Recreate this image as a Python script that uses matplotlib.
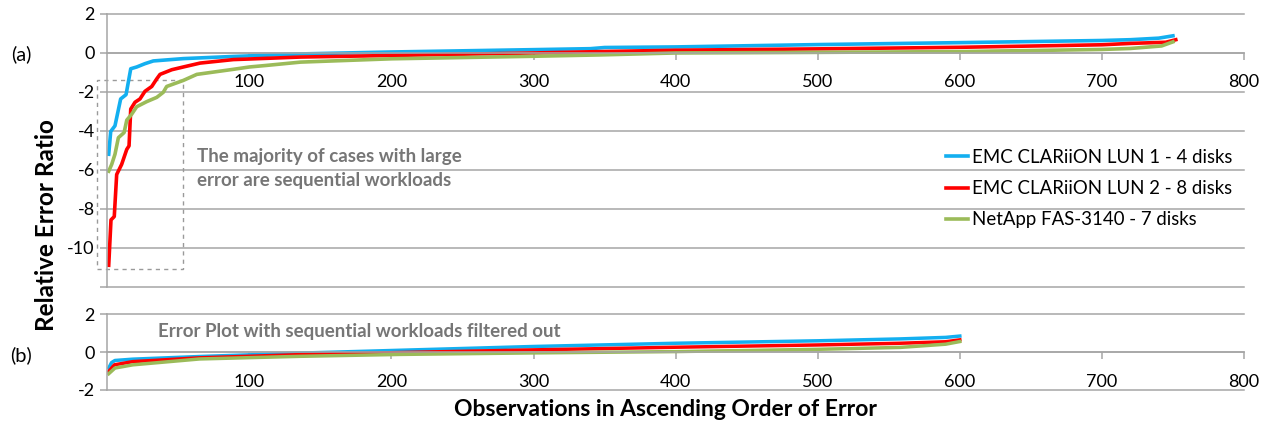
#!/usr/bin/env python3
"""Sorted relative-error curves for three storage arrays: all workloads (a)
and with sequential workloads filtered out (b)."""
import matplotlib
matplotlib.use('Agg')
import matplotlib.pyplot as plt
from matplotlib.patches import Rectangle

plt.rcParams['font.family'] = ['Lato', 'DejaVu Sans']

labels = ['EMC CLARiiON LUN 1 - 4 disks',
          'EMC CLARiiON LUN 2 - 8 disks',
          'NetApp FAS-3140 - 7 disks']
colors = ['#13aff0', '#ff0000', '#9bbb59']

# (a) all workloads, ~750 observations each
a_blue_x = [1, 2.4, 5.4, 9.4, 13.2, 16.5, 20.7, 26.5, 32.4, 53.5, 88.7, 100,
            136, 200, 300, 340, 350, 400, 500, 600, 700, 720, 740, 750]
a_blue_y = [-5.2, -4.03, -3.74, -2.36, -2.14, -0.81, -0.72, -0.55, -0.41, -0.29,
            -0.18, -0.15, -0.05, 0.05, 0.17, 0.22, 0.28, 0.31, 0.43, 0.53, 0.64,
            0.68, 0.76, 0.88]

a_red_x = [1, 2.6, 4.9, 6.6, 10.1, 13.7, 15.3, 16.5, 19.5, 23, 26.5, 31.3, 34.8,
           37.1, 45.4, 53.5, 65.3, 88.7, 100, 136, 200, 300, 347, 400, 500, 600,
           700, 720, 745, 752]
a_red_y = [-10.9, -8.57, -8.4, -6.24, -5.72, -4.95, -4.77, -2.88, -2.53, -2.36,
           -1.97, -1.72, -1.33, -1.1, -0.86, -0.72, -0.52, -0.34, -0.31, -0.21,
           -0.13, 0.0, 0.07, 0.14, 0.21, 0.29, 0.42, 0.49, 0.55, 0.68]

a_green_x = [1, 3.1, 5.4, 7.8, 11.8, 13.7, 17.2, 20.7, 27.7, 34.8, 39.4, 41.8,
             53.5, 63, 88.7, 100, 112, 136, 200, 300, 347, 400, 500, 600, 700,
             720, 742, 750]
a_green_y = [-6.07, -5.72, -5.2, -4.35, -4.09, -3.45, -3.14, -2.76, -2.5, -2.28,
             -2.02, -1.72, -1.41, -1.1, -0.84, -0.72, -0.64, -0.47, -0.3, -0.17,
             -0.1, 0.0, 0.03, 0.07, 0.18, 0.23, 0.36, 0.57]

# (b) sequential workloads removed, ~600 observations each
b_blue_x = [1, 3, 5.4, 18, 65, 136, 206, 300, 400, 500, 558, 590, 600]
b_blue_y = [-0.84, -0.55, -0.44, -0.37, -0.23, -0.05, 0.1, 0.3, 0.47, 0.6, 0.7,
            0.78, 0.85]

b_red_x = [1, 5, 18, 65, 136, 206, 300, 400, 500, 558, 590, 600]
b_red_y = [-1.02, -0.67, -0.5, -0.3, -0.13, -0.02, 0.12, 0.26, 0.38, 0.47, 0.55,
           0.65]

b_green_x = [1, 5.4, 18, 65, 136, 206, 300, 400, 500, 558, 590, 600]
b_green_y = [-1.14, -0.84, -0.67, -0.36, -0.22, -0.12, -0.04, 0.03, 0.15, 0.25,
             0.42, 0.56]

a_yticks = [-12, -10, -8, -6, -4, -2, 0, 2]
b_yticks = [-2, 0, 2]
xticks = [100, 200, 300, 400, 500, 600, 700, 800]

GRID = '#a6a6a6'
NOTE = '#767676'

W, H = 1269, 425
fig = plt.figure(figsize=(W / 100, H / 100), dpi=100)
left, width = 107.3 / W, (1244 - 107.3) / W
ax_a = fig.add_axes([left, 1 - 286.7 / H, width, 272.7 / H])
ax_b = fig.add_axes([left, 1 - 390 / H, width, 75.7 / H])


def style(ax, ylim, yticks):
    ax.set_xlim(0, 800)
    ax.set_ylim(*ylim)
    ax.set_yticks(yticks)
    ax.set_yticklabels([str(t) if t != -12 else '' for t in yticks])
    ax.set_xticks(xticks)
    ax.set_xticklabels([str(t) for t in xticks])
    for s in ('top', 'right'):
        ax.spines[s].set_visible(False)
    ax.spines['bottom'].set_position(('data', 0))
    for s in ('left', 'bottom'):
        ax.spines[s].set_color(GRID)
        ax.spines[s].set_linewidth(1.1)
    ax.yaxis.grid(True, color=GRID, lw=1.1)
    for gl in ax.get_ygridlines():
        gl.set_clip_on(False)
    ax.tick_params(axis='both', direction='out', length=5, width=1.1,
                   color=GRID, labelsize=13, labelcolor='black')
    ax.tick_params(axis='y', pad=4)
    ax.tick_params(axis='x', pad=10.5)
    ax.set_axisbelow(True)


style(ax_a, (-12, 2), a_yticks)
style(ax_b, (-2, 2), b_yticks)

for xs, ys, c, lab in zip([a_blue_x, a_red_x, a_green_x],
                          [a_blue_y, a_red_y, a_green_y], colors, labels):
    ax_a.plot(xs, ys, color=c, lw=2.6, label=lab, solid_joinstyle='round')

for xs, ys, c in zip([b_blue_x, b_red_x, b_green_x],
                     [b_blue_y, b_red_y, b_green_y], colors):
    ax_b.plot(xs, ys, color=c, lw=2.5, solid_joinstyle='round')

# dashed box around the steep start of the curves
ax_a.add_patch(Rectangle((-7.5, -11.1), 61, 9.72, fill=False, ec='#9a9a9a',
                         lw=1.0, ls=(0, (3, 3)), clip_on=False))

ax_a.text(63, -5.95, 'The majority of cases with large\nerror are sequential workloads',
          color=NOTE, fontsize=13.5, fontweight='bold', ha='left', va='center',
          linespacing=1.5)
ax_b.text(36, 1.1, 'Error Plot with sequential workloads filtered out',
          color=NOTE, fontsize=13.5, fontweight='bold', ha='left', va='center')

ax_a.legend(loc='upper left', bbox_to_anchor=(946 / W, 1 - 149 / H),
            bbox_transform=fig.transFigure, frameon=False, fontsize=13.4,
            handlelength=1.2, handletextpad=0.2, labelspacing=0.76,
            borderpad=0, borderaxespad=0)

fig.text(21 / W, 1 - 54 / H, '(a)', fontsize=14.5, ha='center', va='center')
fig.text(21 / W, 1 - 355 / H, '(b)', fontsize=14.5, ha='center', va='center')
fig.text(47 / W, 1 - 225 / H, 'Relative Error Ratio', rotation=90,
         fontsize=17.5, fontweight='bold', ha='center', va='center')
fig.text(665 / W, 1 - 409 / H, 'Observations in Ascending Order of Error',
         fontsize=16.5, fontweight='bold', ha='center', va='center')

fig.savefig('out.png', dpi=100)
